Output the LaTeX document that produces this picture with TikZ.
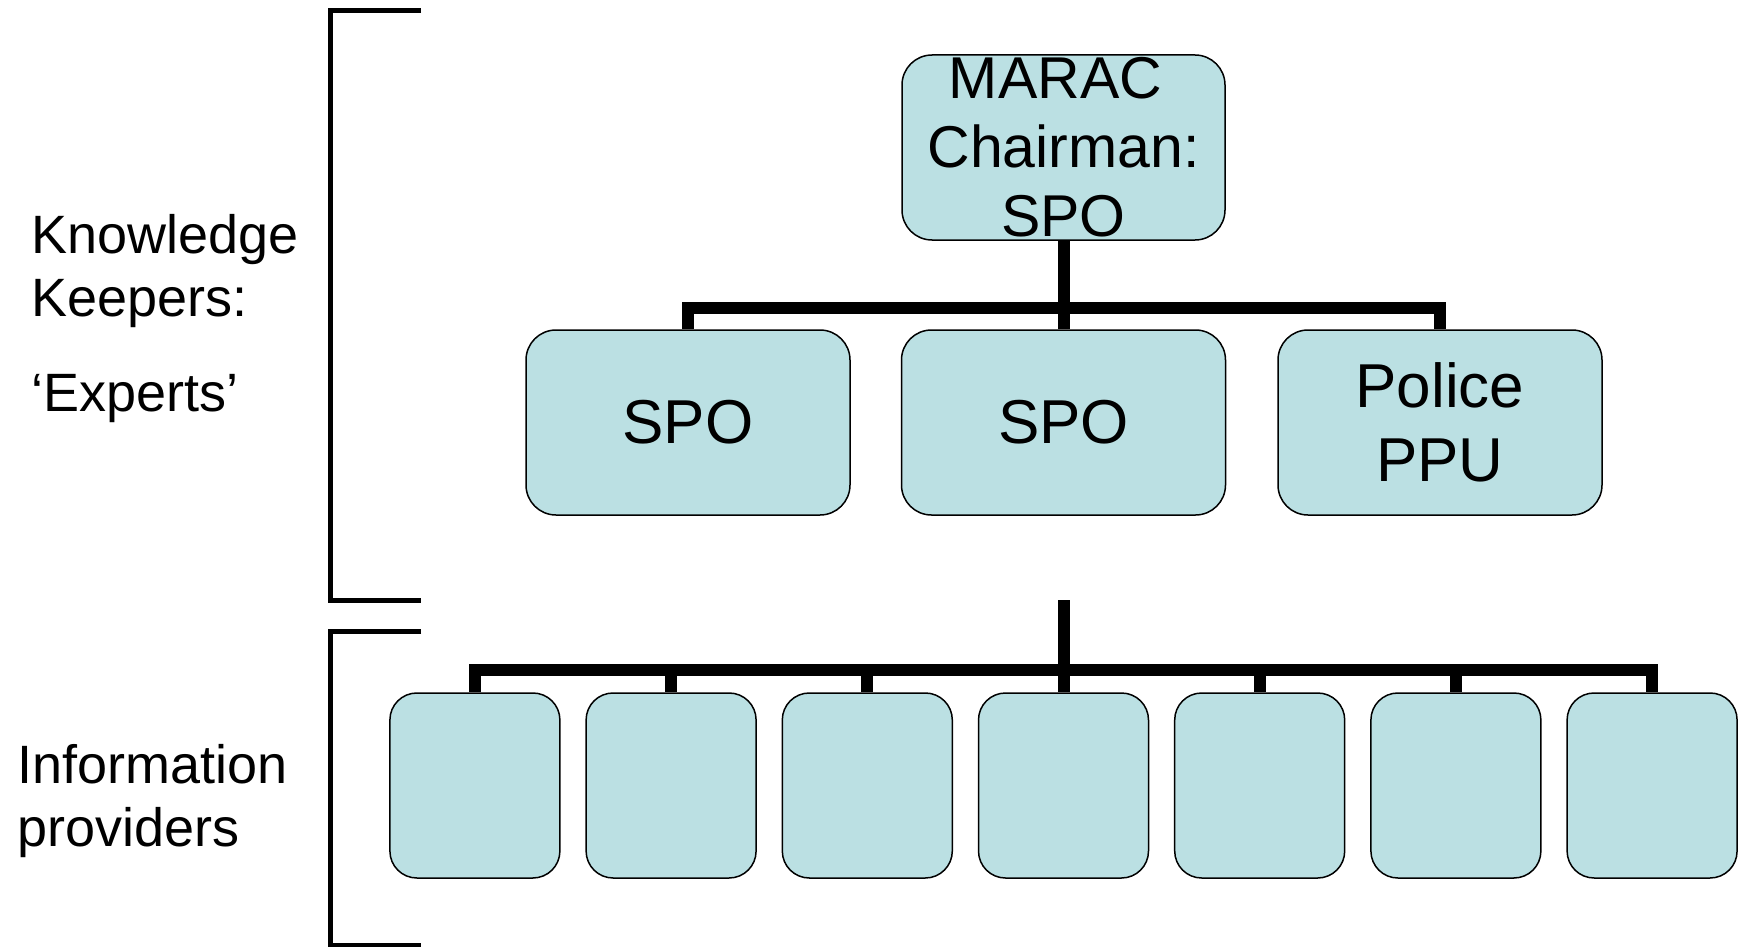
\documentclass[tikz,border=0pt]{standalone}
\usepackage{fontspec}
\setmainfont{Liberation Sans}
\usepackage{tikz}
\usetikzlibrary{shapes,arrows}
\definecolor{boxblue}{RGB}{187,224,227}
\tikzstyle{chairbox} = [rectangle, rounded corners=30pt, minimum width=323pt, minimum height=185pt, inner sep=0pt, align=center, draw=black, line width=1.5pt, fill=boxblue, font=\fontsize{59}{69}\selectfont]
\tikzstyle{expert} = [rectangle, rounded corners=30pt, minimum width=324pt, minimum height=185pt, inner sep=0pt, align=center, draw=black, line width=1.5pt, fill=boxblue, font=\fontsize{62}{74}\selectfont]
\tikzstyle{provider} = [rectangle, rounded corners=27pt, minimum width=170pt, minimum height=185pt, draw=black, line width=1.5pt, fill=boxblue]
\tikzstyle{sidetext} = [anchor=base west, inner sep=0pt, font=\fontsize{54}{64}\selectfont]
\tikzstyle{tree} = [line width=12pt]
\tikzstyle{bracket} = [line width=5pt]

\begin{document}
\begin{tikzpicture}[x=1pt, y=-1pt, node distance=196.2pt]
        \useasboundingbox (0,0) rectangle (1738,947);
        % experts
        \node (chair) [chairbox] at (1063.5,147.5) {MARAC\hspace*{16pt}\\Chairman:\hspace*{16pt}\\SPO};
        \node (spo2) [expert, below of=chair, yshift=-78.8pt] {SPO};
        \node (spo1) [expert, left of=spo2, xshift=-179.3pt] {SPO};
        \node (ppu) [expert, right of=spo2, xshift=180.3pt] {Police\\PPU};
        % information providers
        \node (ip4) [provider, below of=spo2, yshift=-166.8pt] {};
        \node (ip3) [provider, left of=ip4] {};
        \node (ip2) [provider, left of=ip3] {};
        \node (ip1) [provider, left of=ip2] {};
        \node (ip5) [provider, right of=ip4] {};
        \node (ip6) [provider, right of=ip5] {};
        \node (ip7) [provider, right of=ip6] {};
        \coordinate (stem) at (1063.5,600);
        % side labels
        \node (know) [sidetext] at (31,253) {Knowledge};
        \node (keep) [sidetext] at (31,316) {Keepers:};
        \node (expt) [sidetext] at (31,411) {`Experts'};
        \node (info) [sidetext] at (17,783) {Information};
        \node (prov) [sidetext] at (17,846) {providers};
        % connectors
        \draw [tree] (chair.south) -- +(0,67) -| (spo1.north);
        \draw [tree] (chair.south) -- (spo2.north);
        \draw [tree] (chair.south) -- +(0,67) -| (ppu.north);
        \draw [tree] (stem) -- +(0,70) -| (ip1.north);
        \draw [tree] (stem) -- +(0,70) -| (ip2.north);
        \draw [tree] (stem) -- +(0,70) -| (ip3.north);
        \draw [tree] (stem) -- (ip4.north);
        \draw [tree] (stem) -- +(0,70) -| (ip5.north);
        \draw [tree] (stem) -- +(0,70) -| (ip6.north);
        \draw [tree] (stem) -- +(0,70) -| (ip7.north);
        % brackets
        \draw [bracket] (421,11) -- (330,11) -- (330,600) -- (421,600);
        \draw [bracket] (421,631) -- (330,631) -- (330,945) -- (421,945);
    \end{tikzpicture}
\end{document}
